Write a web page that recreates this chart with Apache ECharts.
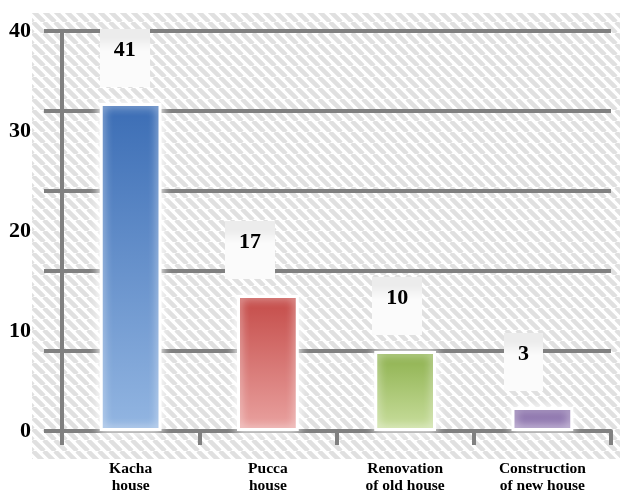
<!DOCTYPE html>
<html><head><meta charset="utf-8">
<script src="https://cdn.jsdelivr.net/npm/echarts@6/dist/echarts.min.js"></script>
<style>html,body{margin:0;padding:0;background:#fff}#c{width:620px;height:490px}</style>
</head><body><div id="c"></div>
<script>
// ---- data ----
const categories = ['Kacha\nhouse', 'Pucca\nhouse', 'Renovation\nof old house', 'Construction\nof new house'];
const values = [41, 17, 10, 3];
const yTickLabels = [0, 10, 20, 30, 40];

// ---- styles ----
const barColors = [
  ['#3b6db5', '#93b6e2'],
  ['#c44a47', '#eaa3a1'],
  ['#8cb04c', '#cadf9f'],
  ['#7d62a0', '#a48fc0']
];
const labelOffsets = [[-6, 0], [-18, 0], [-8, 0], [-19, 0]];
const font = '"Liberation Serif","Times New Roman",serif';

function stripeCanvas() {
  const s = 11;
  const c = document.createElement('canvas');
  c.width = s; c.height = s;
  const g = c.getContext('2d');
  g.fillStyle = '#ffffff'; g.fillRect(0, 0, s, s);
  g.strokeStyle = '#e0e0e0'; g.lineWidth = 4.5;
  for (let k = -1; k <= 1; k++) {
    g.beginPath(); g.moveTo(k * s, 0); g.lineTo(k * s + s, s); g.stroke();
  }
  return c;
}
function hStripeCanvas() {
  const c = document.createElement('canvas');
  c.width = 4; c.height = 4;
  const g = c.getContext('2d');
  g.fillStyle = '#fbfbfb'; g.fillRect(0, 0, 4, 4);
  g.fillStyle = '#ececec'; g.fillRect(0, 0, 4, 1);
  return c;
}

const chart = echarts.init(document.getElementById('c'), null, {renderer: 'canvas'});
const gridCol = '#808080';
chart.setOption({
  animation: false,
  backgroundColor: '#fff',
  graphic: [{
    type: 'rect', z: -10, silent: true,
    shape: {x: 32, y: 13, width: 588, height: 446},
    style: {fill: {image: stripeCanvas(), repeat: 'repeat'}}
  }],
  grid: {left: 62, right: 9, top: 31, bottom: 59, containLabel: false, outerBoundsMode: 'none'},
  xAxis: {
    type: 'category', data: categories,
    axisLine: {lineStyle: {color: gridCol, width: 4}},
    axisTick: {show: true, length: 14, lineStyle: {color: gridCol, width: 4}},
    axisLabel: {margin: 29, color: '#000', fontFamily: font, fontWeight: 'bold', fontSize: 15.5, lineHeight: 17}
  },
  yAxis: [{
    type: 'value', min: 0, max: 50, interval: 10,
    axisLine: {show: true, lineStyle: {color: gridCol, width: 4}},
    axisTick: {show: true, length: 18, lineStyle: {color: gridCol, width: 4}},
    axisLabel: {show: false},
    splitLine: {show: true, lineStyle: {color: gridCol, width: 4}}
  }, {
    type: 'value', position: 'left', min: 0, max: 40, interval: 10,
    axisLine: {show: false}, axisTick: {show: false}, splitLine: {show: false},
    axisLabel: {
      margin: 31, color: '#000', fontFamily: font, fontWeight: 'bold', fontSize: 22,
      formatter: v => yTickLabels.includes(v) ? String(v) : ''
    }
  }],
  series: [{
    type: 'bar', barWidth: '45%', yAxisIndex: 0, z: 3,
    data: values.map((v, i) => ({
      value: v,
      itemStyle: {
        color: new echarts.graphic.LinearGradient(0, 0, 0, 1, [
          {offset: 0, color: barColors[i][0]}, {offset: 1, color: barColors[i][1]}
        ]),
        borderColor: '#fff', borderWidth: 3,
        shadowColor: 'rgba(255,255,255,1)', shadowBlur: 10
      },
      label: {offset: labelOffsets[i]}
    })),
    label: {
      show: true, position: 'top', distance: 16,
      color: '#000', fontFamily: font, fontWeight: 'bold', fontSize: 22,
      backgroundColor: {image: hStripeCanvas(), repeat: 'repeat'},
      padding: [10, 14, 26, 14]
    }
  }]
});
</script></body></html>
